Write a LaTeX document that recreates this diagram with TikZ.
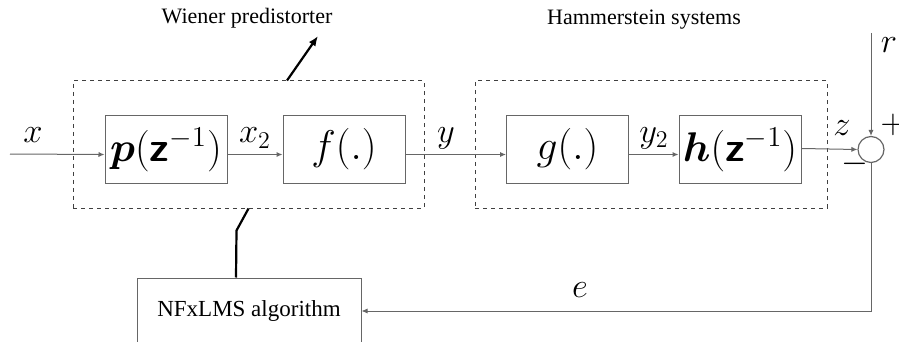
\documentclass[tikz,border=0pt]{standalone}
\usepackage{amsmath}
\usepackage{amssymb}
\usepackage{fontspec}
\setmainfont{Liberation Serif}
\usetikzlibrary{arrows.meta}
\newcommand{\zinv}{(\boldsymbol{\mathsf{z}}^{-1})}
\tikzset{
  blk/.style={draw=black!60,line width=0.5pt,minimum width=61pt,minimum height=33.5pt,inner sep=0pt,font=\huge},
  grp/.style={draw=black!75,line width=0.5pt,dash pattern=on 2pt off 2pt,minimum height=63.5pt,inner sep=0pt},
  sig/.style={draw=black!60,line width=0.5pt,-{Latex[length=3pt,width=2.6pt]}},
  lbl/.style={font=\LARGE,inner sep=0pt},
  captxt/.style={font=\fontsize{11}{13}\selectfont,inner sep=0pt},
}

\begin{document}
\begin{tikzpicture}[x=0.5pt,y=-0.5pt]
\useasboundingbox (0,0) rectangle (899,342);
% dashed groups
\node[grp,minimum width=175.5pt] (wp) at (248.5,144.5) {};
\node[grp,minimum width=176pt] (hs) at (651,144.5) {};
\node[captxt] (wpt) at (247,18) {Wiener predistorter};
\node[captxt] (hst) at (644,20) {Hammerstein systems};
% blocks
\node[blk] (p) at (166,149.5) {$\boldsymbol{p}\zinv$};
\node[blk] (f) at (344,149.5) {$f(.)$};
\node[blk] (g) at (567.5,149.5) {$g(.)$};
\node[blk] (h) at (740,149.5) {$\boldsymbol{h}\zinv$};
\node[draw=black!60,line width=0.6pt,circle,minimum size=13pt,inner sep=0pt] (s) at (871,149.5) {};
\node[draw=black!60,line width=0.5pt,minimum width=112pt,minimum height=33pt,inner sep=0pt,font=\fontsize{11.5}{13}\selectfont] (alg) at (249,311) {NFxLMS algorithm};
\coordinate (xin) at (10,154);
\coordinate (rin) at (871,33);
\coordinate (tip) at (318,36);
% signals
\draw[sig] (xin) -- ([yshift=-2.5pt]p.west);
\draw[sig] ([yshift=-2.5pt]p.east) -- ([yshift=-2.5pt]f.west);
\draw[sig] ([yshift=-2.5pt]f.east) -- ([yshift=-2.5pt]g.west);
\draw[sig] ([yshift=-2.5pt]g.east) -- ([yshift=-2.5pt]h.west);
\draw[sig] ([yshift=0.5pt]h.east) -- (s.west);
\draw[sig] (rin) -- (s.north);
\draw[sig] (s.south) |- (alg.east);
\draw[line width=1.1pt,-{Latex[length=5pt,width=4pt]}] ([xshift=19.25pt]wp.north) -- (tip);
\draw[line width=1.1pt] (wp.south) -- ++(-12,22) -- ([xshift=-6.5pt]alg.north);
% labels
\node[lbl] (lx) at (33,135) {$x$};
\node[lbl] (lx2) at (255,138) {$x_2$};
\node[lbl] (ly) at (446,138) {$y$};
\node[lbl] (ly2) at (654,138) {$y_2$};
\node[lbl] (lz) at (842,128) {$z$};
\node[lbl] (lr) at (889,45) {$r$};
\node[lbl] (lp) at (893,125) {$+$};
\node[lbl] (lm) at (855,164) {$-$};
\node[lbl] (le) at (580,290) {$e$};
\end{tikzpicture}
\end{document}
